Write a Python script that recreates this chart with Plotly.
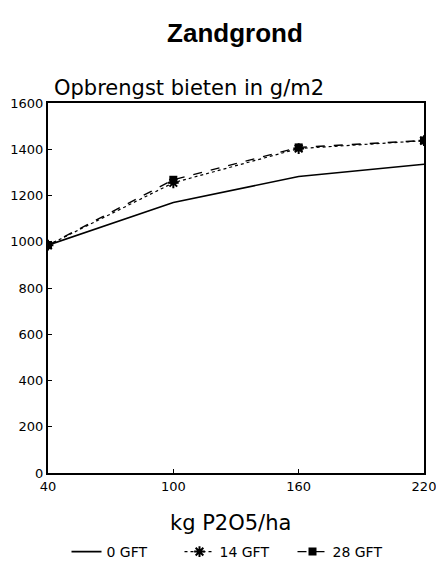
import plotly.graph_objects as go

x_vals = [40, 100, 160, 220]
gft0 = [985, 1170, 1282, 1335]
gft14 = [985, 1255, 1403, 1437]
gft28 = [985, 1268, 1408, 1438]
series_names = ["0 GFT", "14 GFT", "28 GFT"]
y_ticks = [0, 200, 400, 600, 800, 1000, 1200, 1400, 1600]

fig = go.Figure()
fig.add_trace(go.Scatter(x=x_vals, y=gft0, name=series_names[0], mode="lines",
                         line=dict(color="black", width=1.6)))
fig.add_trace(go.Scatter(x=x_vals, y=gft14, name=series_names[1], mode="lines+markers",
                         line=dict(color="black", width=1.2, dash="dot"),
                         marker=dict(symbol="asterisk-open", size=9, color="black",
                                     line=dict(width=2, color="black"))))
fig.add_trace(go.Scatter(x=x_vals, y=gft28, name=series_names[2], mode="lines+markers",
                         line=dict(color="black", width=1.4, dash="dash"),
                         marker=dict(symbol="square", size=8, color="black")))

fig.update_layout(
    width=436, height=565,
    margin=dict(l=48, r=12, t=103, b=92, autoexpand=False),
    paper_bgcolor="white", plot_bgcolor="white",
    font=dict(family="DejaVu Sans", color="black"),
    title=dict(text="<b>Zandgrond</b>", x=235 / 436, xanchor="center", y=1 - 33 / 565,
               yanchor="middle", font=dict(family="Liberation Sans", size=26, color="black")),
    showlegend=True,
    legend=dict(orientation="h", x=0.5, xanchor="center", yref="container",
                y=1 - 552 / 565, yanchor="middle",
                font=dict(size=14), itemwidth=30, entrywidth=68, entrywidthmode="pixels"),
    xaxis=dict(range=[40, 220], tickvals=x_vals, showgrid=False, zeroline=False,
               showline=True, linecolor="black", linewidth=2, mirror=True,
               ticks="inside", ticklen=4, tickcolor="black", automargin=False,
               ticklabeloverflow="allow", tickfont=dict(size=13)),
    yaxis=dict(range=[0, 1600], tickvals=y_ticks, showgrid=False, zeroline=False,
               showline=True, linecolor="black", linewidth=2, mirror=True,
               ticks="inside", ticklen=4, tickcolor="black", automargin=False,
               ticklabeloverflow="allow", tickfont=dict(size=13)),
    annotations=[
        dict(text="Opbrengst bieten in g/m2", xref="paper", yref="paper", x=0.01, y=1.04,
             xanchor="left", yanchor="middle", showarrow=False,
             font=dict(size=21, color="black")),
        dict(text="kg P2O5/ha", xref="paper", yref="paper", x=0.485, y=-0.135,
             xanchor="center", yanchor="middle", showarrow=False,
             font=dict(size=21, color="black")),
    ],
)

fig.write_html("out.html")
